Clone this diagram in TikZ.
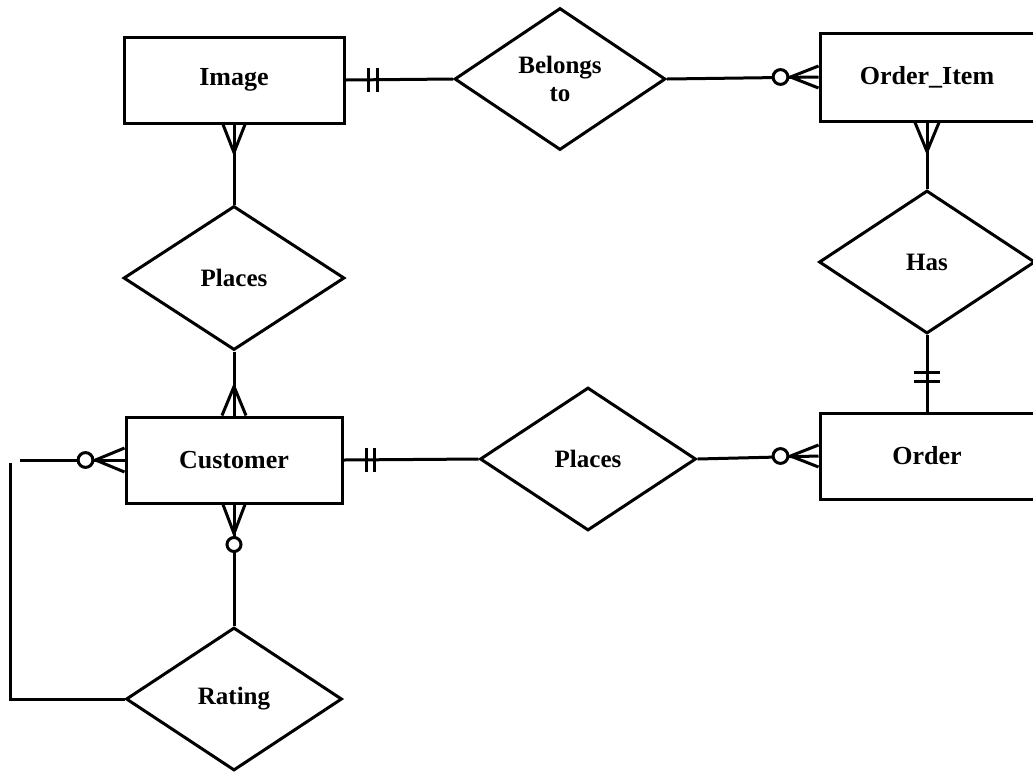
\documentclass[tikz,border=0pt]{standalone}
\usepackage{fontspec}
\setmainfont{Liberation Serif}
\usepackage{tikz}
\usetikzlibrary{positioning}
\usetikzlibrary{shapes.geometric}
\usetikzlibrary{calc}

\begin{document}
\begin{tikzpicture}[x=0.5pt,y=-0.5pt,line width=1.5pt,
    entity/.style={draw, minimum width=108pt, minimum height=43pt, inner sep=0pt, font=\bfseries\fontsize{13}{15}\selectfont},
    relation/.style={draw, diamond, minimum width=108pt, minimum height=71.5pt, inner sep=0pt, align=center, font=\bfseries\fontsize{12.5}{14}\selectfont}]
    \useasboundingbox (0,0) rectangle (1033,773);
    \fill[white] (0,0) rectangle (1033,773);
    % entities
    \node[entity, minimum width=110pt] (Image) at (234,80) {Image}; %
    \node[entity, minimum width=107pt, minimum height=44pt] (OrderItem) at (927,77) {Order\_Item}; %
    \node[entity] (Customer) at (234,460) {Customer}; %
    \node[entity, minimum width=107pt] (Order) at (927,456) {Order}; %
    % relations
    \node[relation, minimum width=105.5pt, minimum height=71pt] (Belongs) at (560,79) {Belongs\\to}; %
    \node[relation, minimum width=110.5pt, minimum height=72pt] (PlacesA) at ($(Image)+(0,198)$) {Places}; %
    \node[relation] (PlacesB) at (588,459) {Places}; %
    \node[relation] (Has) at ($(OrderItem)+(0,185)$) {Has}; %
    \node[relation] (Rating) at ($(Customer)+(0,239)$) {Rating}; %
    \coordinate (loopA) at (20,460); %
    \coordinate (loopB) at (10,463); %
    % connectors
    \draw (Image.east) -- (Belongs.west); %
    \draw (Belongs.east) -- (OrderItem.west); %
    \draw (Image.south) -- (PlacesA.north); %
    \draw (PlacesA.south) -- (Customer.north); %
    \draw (Customer.east) -- (PlacesB.west); %
    \draw (PlacesB.east) -- (Order.west); %
    \draw (OrderItem.south) -- (Has.north); %
    \draw (Has.south) -- (Order.north); %
    \draw (Customer.south) -- (Rating.north); %
    \draw (loopA) -- (Customer.west); %
    \draw (loopB) |- (Rating.west); %
    % one marks
    \draw ($(Image.east)+(23,-12)$) -- ++(0,24) ($(Image.east)+(32,-12)$) -- ++(0,24); %
    \draw ($(Customer.east)+(23,-12)$) -- ++(0,24) ($(Customer.east)+(31,-12)$) -- ++(0,24); %
    \draw ($(Order.north)+(-13,-30)$) -- ++(26,0) ($(Order.north)+(-13,-39)$) -- ++(26,0); %
    % many marks
    \draw ($(Image.south)+(-11,0)$) -- ($(Image.south)+(0,28)$) -- ($(Image.south)+(11,0)$); %
    \draw ($(Customer.north)+(-12,0)$) -- ($(Customer.north)+(0,-29)$) -- ($(Customer.north)+(12,0)$); %
    \draw ($(OrderItem.south)+(-12,0)$) -- ($(OrderItem.south)+(0,29)$) -- ($(OrderItem.south)+(12,0)$); %
    \draw ($(Customer.west)+(0,-12)$) -- ($(Customer.west)+(-29,0)$) -- ($(Customer.west)+(0,12)$); %
    \draw ($(Customer.south)+(-11,0)$) -- ($(Customer.south)+(0,29)$) -- ($(Customer.south)+(11,0)$); %
    \draw ($(OrderItem.west)+(0,-11)$) -- ($(OrderItem.west)+(-28,0)$) -- ($(OrderItem.west)+(0,11)$); %
    \draw ($(Order.west)+(0,-11)$) -- ($(Order.west)+(-28,0)$) -- ($(Order.west)+(0,11)$); %
    % zero marks
    \draw[fill=white] ($(Customer.west)+(-39,0)$) circle[radius=3.7pt]; %
    \draw[fill=white] ($(Customer.south)+(0,40)$) circle[radius=3.5pt]; %
    \draw[fill=white] ($(OrderItem.west)+(-38,0)$) circle[radius=3.7pt]; %
    \draw[fill=white] ($(Order.west)+(-38,0)$) circle[radius=3.7pt]; %
\end{tikzpicture}
\end{document}
